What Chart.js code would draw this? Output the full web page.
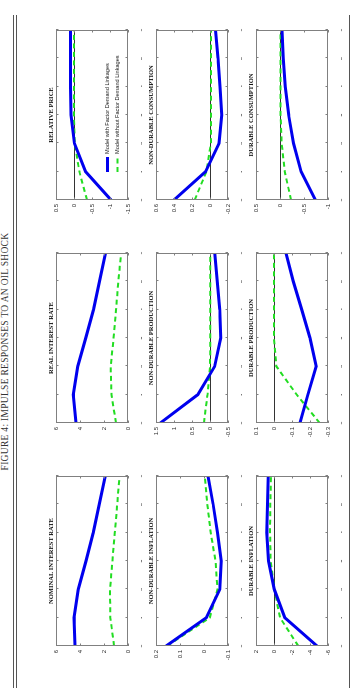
<!DOCTYPE html>
<html lang="en">
<head>
<meta charset="UTF-8">
<title>Figure 4</title>
<style>
    html, body { margin: 0; padding: 0; background: #fff; overflow: hidden; }
    #fig {
        position: absolute; left: 0; top: 0;
        width: 688px; height: 351px;
        transform-origin: 0 0;
        transform: translate(0, 688px) rotate(-90deg);
        background: #fff;
    }
    #fig canvas { position: absolute; }
    .rule { position: absolute; left: 0; width: 673px; height: 1px; background: #555; }
    #figTitle {
        position: absolute; left: 0; width: 673px; top: 0;
        text-align: center; font: 9.5px/11px "Liberation Serif", serif; color: #333;
        letter-spacing: 0.3px;
    }
</style>
</head>
<body>
<div id="fig">
    <div id="figTitle">FIGURE 4: IMPULSE RESPONSES TO AN OIL SHOCK</div>
    <div class="rule" style="top:13px"></div>
    <div class="rule" style="top:16px"></div>
    <div class="rule" style="top:349px"></div>
</div>

<script src="https://cdn.jsdelivr.net/npm/chart.js@4.4.1/dist/chart.umd.min.js"></script>
<script>
// quarters after the shock
const quarters = [0, 1, 2, 3, 4, 5, 6];

const seriesNames = ['Model with Factor Demand Linkages', 'Model without Factor Demand Linkages'];

const nominalWith     = [4.42, 4.50, 4.15, 3.50, 2.90, 2.40, 1.90];
const nominalWithout  = [1.16, 1.47, 1.50, 1.30, 1.10, 0.90, 0.70];
const realWith        = [4.33, 4.56, 4.18, 3.52, 2.88, 2.37, 1.88];
const realWithout     = [1.00, 1.38, 1.44, 1.20, 1.00, 0.80, 0.58];
const relPriceWith    = [-1.03, -0.32, -0.01, 0.08, 0.10, 0.10, 0.10];
const relPriceWithout = [-0.36, -0.15, -0.02, 0.00, 0.00, 0.00, 0.00];

const ndInflWith      = [0.158, -0.010, -0.066, -0.072, -0.056, -0.038, -0.017];
const ndInflWithout   = [0.154, -0.024, -0.056, -0.048, -0.028, -0.014, -0.003];
const ndProdWith      = [1.38, 0.34, -0.13, -0.30, -0.27, -0.20, -0.13];
const ndProdWithout   = [0.17, 0.07, 0.00, -0.01, -0.01, -0.01, -0.01];
const ndConsWith      = [0.40, 0.05, -0.10, -0.13, -0.11, -0.09, -0.06];
const ndConsWithout   = [0.17, 0.04, -0.01, -0.01, -0.01, -0.01, -0.01];

const dInflWith       = [-4.79, -1.20, -0.03, 0.60, 0.80, 0.73, 0.63];
const dInflWithout    = [-2.70, -0.67, -0.04, 0.37, 0.44, 0.41, 0.33];
const dProdWith       = [-0.144, -0.188, -0.235, -0.200, -0.154, -0.107, -0.066];
const dProdWithout    = [-0.254, -0.126, -0.013, 0.000, 0.000, 0.000, 0.000];
const dConsWith       = [-0.74, -0.44, -0.28, -0.18, -0.11, -0.07, -0.04];
const dConsWithout    = [-0.23, -0.10, -0.035, -0.01, -0.01, -0.01, -0.01];

// y axis ranges [min, max, step]
const nominalAxis  = [0, 6, 2];
const realAxis     = [0, 6, 2];
const relPriceAxis = [-1.5, 0.5, 0.5];
const ndInflAxis   = [-0.1, 0.2, 0.1];
const ndProdAxis   = [-0.5, 1.5, 0.5];
const ndConsAxis   = [-0.2, 0.6, 0.2];
const dInflAxis    = [-6, 2, 2];
const dProdAxis    = [-0.3, 0.1, 0.1];
const dConsAxis    = [-1, 0.5, 0.5];

// row by row, as in the landscape page
const panels = [
    { title: 'NOMINAL INTEREST RATE',   w: nominalWith,  wo: nominalWithout,  axis: nominalAxis },
    { title: 'REAL INTEREST RATE',      w: realWith,     wo: realWithout,     axis: realAxis },
    { title: 'RELATIVE PRICE',          w: relPriceWith, wo: relPriceWithout, axis: relPriceAxis, legend: true },
    { title: 'NON-DURABLE INFLATION',   w: ndInflWith,   wo: ndInflWithout,   axis: ndInflAxis },
    { title: 'NON-DURABLE PRODUCTION',  w: ndProdWith,   wo: ndProdWithout,   axis: ndProdAxis },
    { title: 'NON-DURABLE CONSUMPTION', w: ndConsWith,   wo: ndConsWithout,   axis: ndConsAxis },
    { title: 'DURABLE INFLATION',       w: dInflWith,    wo: dInflWithout,    axis: dInflAxis },
    { title: 'DURABLE PRODUCTION',      w: dProdWith,    wo: dProdWithout,    axis: dProdAxis },
    { title: 'DURABLE CONSUMPTION',     w: dConsWith,    wo: dConsWithout,    axis: dConsAxis }
];

// layout of the (unrotated) landscape figure
const colLeft = [42, 265, 488];
const rowTop = [56, 156, 256];
const plotW = 170, plotH = 72;
const padL = 30, padT = 14, padR = 8, padB = 14;

const BLUE = '#0000ee';
const GREEN = '#22dd22';
const TICK_FONT = { family: '"Liberation Sans", Arial, sans-serif', size: 6 };

// MATLAB style box, inward ticks, panel title and legend
const boxPlugin = {
    id: 'matlabBox',
    afterDraw(chart, args, opts) {
        const ctx = chart.ctx;
        const a = chart.chartArea;
        const xs = chart.scales.x, ys = chart.scales.y;
        ctx.save();
        ctx.strokeStyle = '#808080';
        ctx.lineWidth = 1;
        ctx.strokeRect(a.left + 0.5, a.top + 0.5, a.width - 1, a.height - 1);
        ctx.beginPath();
        xs.ticks.forEach(function(t) {
            const px = Math.round(xs.getPixelForValue(t.value)) + 0.5;
            ctx.moveTo(px, a.bottom); ctx.lineTo(px, a.bottom - 2.5);
            ctx.moveTo(px, a.top); ctx.lineTo(px, a.top + 2.5);
        });
        ys.ticks.forEach(function(t) {
            const py = Math.round(ys.getPixelForValue(t.value)) + 0.5;
            ctx.moveTo(a.left, py); ctx.lineTo(a.left + 2.5, py);
            ctx.moveTo(a.right, py); ctx.lineTo(a.right - 2.5, py);
        });
        ctx.stroke();

        ctx.fillStyle = '#111';
        ctx.font = 'bold 6.5px "Liberation Serif", serif';
        ctx.textAlign = 'center';
        ctx.textBaseline = 'alphabetic';
        ctx.fillText(opts.text, (a.left + a.right) / 2, a.top - 3);

        if (opts.legend) {
            ctx.font = '5.6px "Liberation Sans", Arial, sans-serif';
            ctx.textAlign = 'left';
            ctx.textBaseline = 'middle';
            chart.data.datasets.forEach(function(ds, i) {
                const ly = a.top + 51.5 + i * 10;
                const lx = a.left + 28;
                ctx.strokeStyle = ds.borderColor;
                ctx.lineWidth = ds.borderWidth;
                ctx.setLineDash(ds.borderDash || []);
                ctx.beginPath();
                ctx.moveTo(lx, ly); ctx.lineTo(lx + 15, ly);
                ctx.stroke();
                ctx.setLineDash([]);
                ctx.fillStyle = '#222';
                ctx.fillText(ds.label, lx + 18, ly);
            });
        }
        ctx.restore();
    }
};

const fig = document.getElementById('fig');
const fmt = function(v) { return String(Math.round(v * 1000) / 1000); };

panels.forEach(function(p, k) {
    const col = k % 3, row = Math.floor(k / 3);
    const cv = document.createElement('canvas');
    cv.width = padL + plotW + padR;
    cv.height = padT + plotH + padB;
    cv.style.left = (colLeft[col] - padL) + 'px';
    cv.style.top = (rowTop[row] - padT) + 'px';
    fig.appendChild(cv);

    new Chart(cv.getContext('2d'), {
        type: 'line',
        data: {
            datasets: [
                {
                    label: seriesNames[0],
                    data: quarters.map(function(q, i) { return { x: q, y: p.w[i] }; }),
                    borderColor: BLUE, borderWidth: 3, pointRadius: 0, tension: 0
                },
                {
                    label: seriesNames[1],
                    data: quarters.map(function(q, i) { return { x: q, y: p.wo[i] }; }),
                    borderColor: GREEN, borderWidth: 2, borderDash: [5, 3.5], pointRadius: 0, tension: 0
                }
            ]
        },
        options: {
            responsive: false,
            animation: false,
            devicePixelRatio: 1,
            layout: { padding: { top: padT, right: padR, left: 0, bottom: 0 } },
            plugins: {
                legend: { display: false },
                tooltip: { enabled: false },
                matlabBox: { text: p.title, legend: !!p.legend }
            },
            scales: {
                x: {
                    type: 'linear', min: 0, max: 6,
                    ticks: { stepSize: 1, font: TICK_FONT, color: '#333', padding: 4, maxRotation: 0, callback: fmt },
                    grid: { display: false },
                    border: { display: false },
                    afterFit: function(s) { s.height = padB; }
                },
                y: {
                    min: p.axis[0], max: p.axis[1],
                    ticks: { stepSize: p.axis[2], font: TICK_FONT, color: '#333', padding: 4, callback: fmt },
                    grid: {
                        drawTicks: false,
                        lineWidth: 0.8,
                        color: function(c) {
                            const s = c.scale;
                            return (c.tick && c.tick.value === 0 && s.min < 0 && s.max > 0) ? '#000' : 'rgba(0,0,0,0)';
                        }
                    },
                    border: { display: false },
                    afterFit: function(s) { s.width = padL; }
                }
            }
        },
        plugins: [boxPlugin]
    });
});
</script>
</body>
</html>
